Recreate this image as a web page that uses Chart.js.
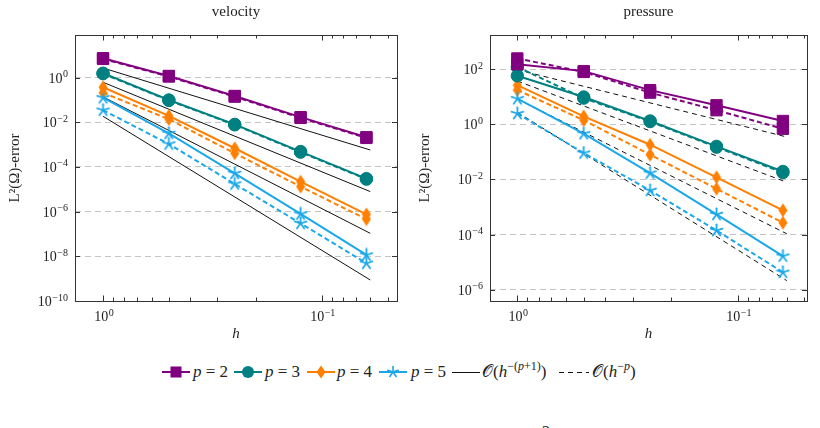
<!DOCTYPE html>
<html><head><meta charset="utf-8">
<script src="https://cdn.jsdelivr.net/npm/chart.js@4.4.0/dist/chart.umd.min.js"></script>
<style>
html,body{margin:0;padding:0;background:#fff;}
body{width:820px;height:428px;overflow:hidden;position:relative;font-family:'Liberation Serif',serif;color:#222;}
#w1{position:absolute;left:0;top:0;width:410px;height:345px;}
#w2{position:absolute;left:410px;top:0;width:410px;height:345px;}
.lg{position:absolute;top:362px;height:20px;line-height:20px;font-size:17px;white-space:nowrap;}
.lg svg{display:block;}
.lg sup{font-size:12px;vertical-align:7px;line-height:0;}
#pg{position:absolute;left:542px;top:423px;font-size:16px;}
</style></head>
<body>
<div id="w1"><canvas id="c1" width="410" height="345"></canvas></div>
<div id="w2"><canvas id="c2" width="410" height="345"></canvas></div>
<div id="legend"></div>
<div id="pg">2</div>
<script>
// ---------- data ----------
const hValues = [1, 0.5, 0.25, 0.125, 0.0625];
const refH = [1, 0.06];
const hTicks = [1, 0.1];
const velocityYTicks = [1e-10, 1e-8, 1e-6, 1e-4, 1e-2, 1e0];
const pressureYTicks = [1e-6, 1e-4, 1e-2, 1e0, 1e2];
const seriesNames = ['p = 2', 'p = 3', 'p = 4', 'p = 5'];

// velocity
const velP2 = [7.4, 1.19, 0.151, 0.017, 0.00214];
const velP2d = [6.9, 1.12, 0.141, 0.0158, 0.0020];
const velP3 = [1.58, 0.100, 0.0081, 4.9e-4, 3.0e-5];
const velP3d = [1.50, 0.095, 0.0077, 4.6e-4, 2.85e-5];
const velP4 = [0.37, 0.0195, 6.9e-4, 2.2e-5, 7.6e-7];
const velP4d = [0.21, 0.0138, 4.1e-4, 1.32e-5, 4.6e-7];
const velP5 = [0.126, 3.2e-3, 5.2e-5, 7.9e-7, 1.15e-8];
const velP5d = [0.035, 1.07e-3, 1.74e-5, 3.0e-7, 4.9e-9];
const velRef1 = [2.69, 5.75e-4];
const velRef2 = [0.62, 7.9e-6];
const velRef3 = [0.138, 1.07e-7];
const velRef4 = [0.0186, 8.7e-10];

// pressure
const preP2 = [151, 85.1, 17.4, 4.9, 1.32];
const preP2d = [245, 79.4, 14.1, 3.24, 0.69];
const preP3 = [57.5, 9.8, 1.32, 0.158, 0.0195];
const preP3d = [120, 8.9, 1.26, 0.148, 0.0178];
const preP4 = [26.3, 1.95, 0.182, 0.012, 7.6e-4];
const preP4d = [17.4, 1.41, 0.079, 4.6e-3, 2.7e-4];
const preP5 = [8.5, 0.457, 0.017, 5.4e-4, 1.66e-5];
const preP5d = [2.45, 0.091, 4.0e-3, 1.41e-4, 4.3e-6];
const preRef1 = [95.5, 0.347];
const preRef2 = [37.2, 7.9e-3];
const preRef3 = [8.3, 1.07e-4];
const preRef4 = [2.75, 2.14e-6];

// ---------- styles ----------
const COLORS = ['#800080', '#008080', '#ff8000', '#1ba8e8'];
const TEXT = '#222';
const FONT = "'Liberation Serif', serif";
Chart.defaults.font.family = FONT;
Chart.defaults.color = TEXT;

function makeDiamond(color) {
  const c = document.createElement('canvas'); c.width = 10; c.height = 15;
  const g = c.getContext('2d'); g.fillStyle = color;
  g.beginPath(); g.moveTo(5, 0.5); g.lineTo(9.5, 7.5); g.lineTo(5, 14.5); g.lineTo(0.5, 7.5); g.closePath(); g.fill();
  return c;
}
function makeStar(color) {
  const c = document.createElement('canvas'); c.width = 15; c.height = 15;
  const g = c.getContext('2d'); g.strokeStyle = color; g.lineWidth = 1.8; g.lineCap = 'round';
  for (let k = 0; k < 5; k++) {
    const a = -Math.PI / 2 + k * 2 * Math.PI / 5;
    g.beginPath(); g.moveTo(7.5, 7.5); g.lineTo(7.5 + 6.2 * Math.cos(a), 7.5 + 6.2 * Math.sin(a)); g.stroke();
  }
  return c;
}
const STYLES = ['rect', 'circle', makeDiamond(COLORS[2]), makeStar(COLORS[3])];
const RADII = [8, 6.2, 6, 6];

function series(vals, i, dashed) {
  return {
    data: hValues.map((h, k) => ({x: h, y: vals[k]})),
    borderColor: COLORS[i], backgroundColor: COLORS[i],
    borderWidth: 2, borderDash: dashed ? [5, 3] : [],
    pointStyle: STYLES[i], pointRadius: RADII[i],
    pointBackgroundColor: COLORS[i], pointBorderColor: COLORS[i], pointBorderWidth: 1,
    order: dashed ? 2 : 1, tension: 0
  };
}
function refLine(vals, dashed) {
  return {
    data: refH.map((h, k) => ({x: h, y: vals[k]})),
    borderColor: '#111', borderWidth: 1, borderDash: dashed ? [5, 4] : [],
    pointRadius: 0, order: 3, tension: 0
  };
}

function expText(v) {
  const e = Math.round(Math.log10(v));
  return String(e).replace('-', '\u2212');
}

// frame, inward ticks and 10^n tick labels (positions from the library's scales)
const framePlugin = {
  id: 'frame',
  afterDatasetsDraw(chart) {
    const {ctx, chartArea: a, scales: {x, y}} = chart;
    ctx.save();
    ctx.strokeStyle = '#333'; ctx.lineWidth = 1; ctx.setLineDash([]);
    ctx.beginPath();
    const lo = Math.min(x.min, x.max), hi = Math.max(x.min, x.max);
    for (let d = -3; d <= 1; d++) {
      for (let m = 1; m <= 9; m++) {
        const v = m * Math.pow(10, d);
        if (v < lo || v > hi) continue;
        const px = Math.round(x.getPixelForValue(v)) + 0.5;
        const len = m === 1 ? 5.5 : 3.5;
        ctx.moveTo(px, a.bottom); ctx.lineTo(px, a.bottom - len);
        ctx.moveTo(px, a.top); ctx.lineTo(px, a.top + len);
      }
    }
    y.ticks.forEach(t => {
      const py = Math.round(y.getPixelForValue(t.value)) + 0.5;
      ctx.moveTo(a.left, py); ctx.lineTo(a.left + 5, py);
      ctx.moveTo(a.right, py); ctx.lineTo(a.right - 5, py);
    });
    ctx.stroke();
    ctx.strokeRect(Math.round(a.left) + 0.5, Math.round(a.top) + 0.5, Math.round(a.right - a.left), Math.round(a.bottom - a.top));

    // tick labels
    ctx.fillStyle = TEXT;
    ctx.textBaseline = 'alphabetic';
    ctx.textAlign = 'left';
    const baseFont = '14px ' + FONT, expFont = '10px ' + FONT;
    function label(v, xLeft, baseY) {
      ctx.font = baseFont; ctx.fillText('10', xLeft, baseY);
      const wb = ctx.measureText('10').width;
      ctx.font = expFont; ctx.fillText(expText(v), xLeft + wb + 0.5, baseY - 5.5);
    }
    function width(v) {
      ctx.font = baseFont; const wb = ctx.measureText('10').width;
      ctx.font = expFont; return wb + 0.5 + ctx.measureText(expText(v)).width;
    }
    y.ticks.forEach(t => {
      const py = y.getPixelForValue(t.value);
      label(t.value, a.left - 7 - width(t.value), py + 5);
    });
    x.ticks.forEach(t => {
      const px = x.getPixelForValue(t.value);
      label(t.value, px - width(t.value) / 2 + 1, a.bottom + 20);
    });
    ctx.restore();
  }
};

function makeChart(id, title, datasets, xMin, xMax, yMin, yMax, yTicks, yWidth) {
  return new Chart(document.getElementById(id), {
    type: 'line',
    data: {datasets},
    plugins: [framePlugin],
    options: {
      responsive: false, animation: false,
      layout: {padding: {left: 0, right: 13, top: 0, bottom: 0}},
      plugins: {
        legend: {display: false}, tooltip: {enabled: false},
        title: {display: true, text: title, fullSize: false, color: TEXT,
          font: {size: 15, weight: 'normal', lineHeight: 1.2}, padding: {top: 3.5, bottom: 13.5}}
      },
      scales: {
        x: {
          type: 'logarithmic', reverse: true, min: xMin, max: xMax, bounds: 'data',
          afterBuildTicks: s => { s.ticks = hTicks.map(v => ({value: v})); },
          afterFit: s => { s.height = 44; },
          grid: {display: false, drawTicks: false},
          border: {display: false},
          ticks: {display: false, autoSkip: false},
          title: {display: true, text: 'h', color: TEXT, font: {size: 15, style: 'italic', lineHeight: 1.2}, padding: {top: 0, bottom: 1.5}}
        },
        y: {
          type: 'logarithmic', min: yMin, max: yMax, bounds: 'data',
          afterBuildTicks: s => { s.ticks = yTicks.map(v => ({value: v})); },
          afterFit: s => { s.width = yWidth; },
          grid: {color: '#c4c4c4', lineWidth: 1, drawTicks: false},
          border: {display: false, dash: [6, 4]},
          ticks: {display: false, autoSkip: false},
          title: {display: true, text: 'L²(Ω)-error', color: TEXT, font: {size: 15, lineHeight: 1.2}, padding: {top: 6, bottom: 0}}
        }
      }
    }
  });
}

const velDatasets = [
  series(velP2, 0, false), series(velP3, 1, false), series(velP4, 2, false), series(velP5, 3, false),
  series(velP2d, 0, true), series(velP3d, 1, true), series(velP4d, 2, true), series(velP5d, 3, true),
  refLine(velRef1, false), refLine(velRef2, false), refLine(velRef3, false), refLine(velRef4, false)
];
const preDatasets = [
  series(preP2, 0, false), series(preP3, 1, false), series(preP4, 2, false), series(preP5, 3, false),
  series(preP2d, 0, true), series(preP3d, 1, true), series(preP4d, 2, true), series(preP5d, 3, true),
  refLine(preRef1, true), refLine(preRef2, true), refLine(preRef3, true), refLine(preRef4, true)
];

makeChart('c1', 'velocity', velDatasets, 0.0453, 1.343, 1e-10, 81, velocityYTicks, 75);
makeChart('c2', 'pressure', preDatasets, 0.0486, 1.33, 3.9e-7, 1738, pressureYTicks, 80);

// ---------- legend (HTML) ----------
const legendSym = [162, 234, 307, 379];
const legendTxt = [193, 265, 337, 411];
const markerSvg = [
  c => `<rect x="8.5" y="1.5" width="11" height="11" fill="${c}"/>`,
  c => `<circle cx="14" cy="7" r="6" fill="${c}"/>`,
  c => `<path d="M14 0.5 L18.5 7 L14 13.5 L9.5 7 Z" fill="${c}"/>`,
  c => [0,1,2,3,4].map(k => { const a = -Math.PI/2 + k*2*Math.PI/5; return `<line x1="14" y1="7" x2="${(14+5.5*Math.cos(a)).toFixed(2)}" y2="${(7+5.5*Math.sin(a)).toFixed(2)}" stroke="${c}" stroke-width="1.6" stroke-linecap="round"/>`; }).join('')
];
let html = '';
seriesNames.forEach((name, i) => {
  html += `<div class="lg" style="left:${legendSym[i]}px;top:365px"><svg width="28" height="14"><line x1="0" y1="7" x2="28" y2="7" stroke="${COLORS[i]}" stroke-width="2"/>${markerSvg[i](COLORS[i])}</svg></div>`;
  const parts = name.split(' = ');
  html += `<div class="lg" style="left:${legendTxt[i]}px"><i>${parts[0]}</i> = ${parts[1]}</div>`;
});
html += `<div class="lg" style="left:452px;top:365px"><svg width="28" height="14"><line x1="0" y1="7.5" x2="28" y2="7.5" stroke="#111" stroke-width="1"/></svg></div>`;
html += `<div class="lg" style="left:482px">𝒪(<i>h</i><sup>−(<i>p</i>+1)</sup>)</div>`;
html += `<div class="lg" style="left:559px;top:365px"><svg width="30" height="14"><line x1="0" y1="7.5" x2="30" y2="7.5" stroke="#111" stroke-width="1" stroke-dasharray="5 4"/></svg></div>`;
html += `<div class="lg" style="left:592px">𝒪(<i>h</i><sup>−<i>p</i></sup>)</div>`;
document.getElementById('legend').innerHTML = html;
</script>
</body></html>
